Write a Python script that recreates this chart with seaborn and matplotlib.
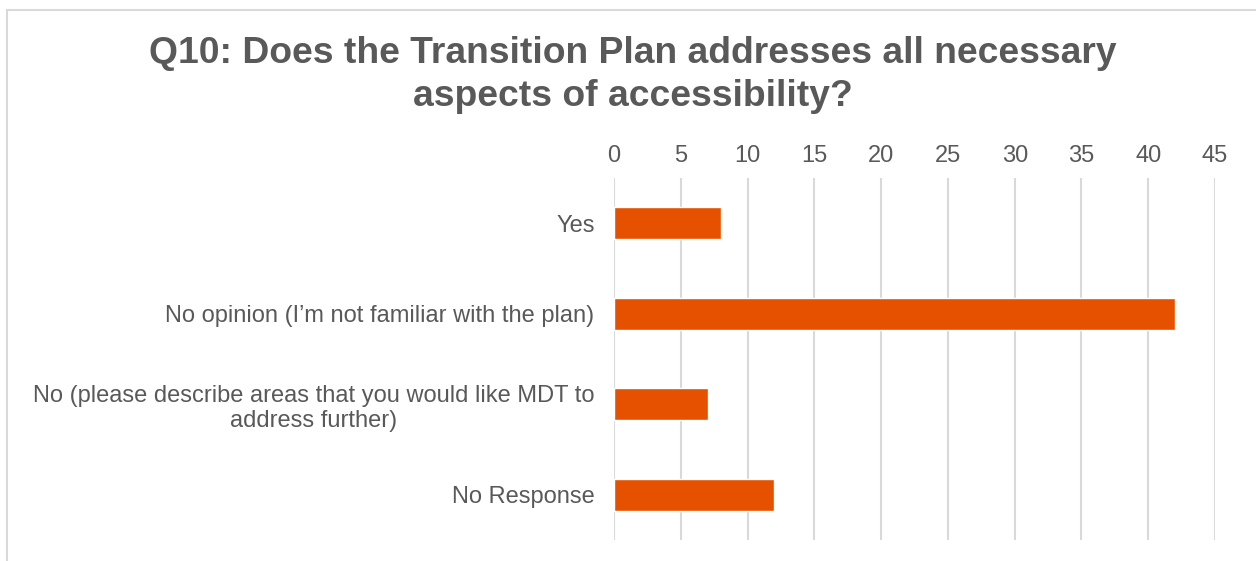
import matplotlib.pyplot as plt
import matplotlib.patches as mpatches
import pandas as pd
import seaborn as sns

categories = [
    "Yes",
    "No opinion (I\u2019m not familiar with the plan)",
    "No (please describe areas that you would like MDT to\naddress further)",
    "No Response",
]
counts = [8, 42, 7, 12]
x_ticks = list(range(0, 50, 5))

TITLE = "Q10: Does the Transition Plan addresses all necessary\naspects of accessibility?"
BAR_COLOR = "#E65100"
TEXT_COLOR = "#595959"
GRID_COLOR = "#D9D9D9"

sns.set_theme(style="white")
plt.rcParams["font.family"] = ["Liberation Sans", "DejaVu Sans"]

df = pd.DataFrame({"category": categories, "count": counts})

fig = plt.figure(figsize=(12.56, 5.61), dpi=100)
ax = fig.add_axes([0.4889, 0.0374, 0.4785, 0.6453])

sns.barplot(data=df, y="category", x="count", color=BAR_COLOR, width=0.35,
            saturation=1, ax=ax)

ax.set_xlim(0, 45)
ax.set_xticks(x_ticks)
ax.xaxis.tick_top()
ax.set_xlabel("")
ax.set_ylabel("")
ax.grid(axis="x", color=GRID_COLOR, linewidth=1.5)
ax.set_axisbelow(True)
for s in ax.spines.values():
    s.set_visible(False)
ax.tick_params(axis="x", length=0, pad=8, labelsize=17, labelcolor=TEXT_COLOR)
ax.tick_params(axis="y", length=0, pad=14, labelsize=17, labelcolor=TEXT_COLOR)
for lbl in ax.get_yticklabels():
    lbl.set_multialignment("center")

fig.text(0.504, 0.866, TITLE, ha="center", va="center", fontsize=26.8,
         fontweight="bold", color=TEXT_COLOR, linespacing=1.32)

# outer chart frame (cut off at right and bottom like the source)
frame = mpatches.Rectangle((7 / 1256, -0.1), 1.2, 1 - 10 / 561 + 0.1,
                           transform=fig.transFigure, fill=False,
                           edgecolor=GRID_COLOR, linewidth=1.5)
fig.patches.append(frame)

fig.savefig("out.png", dpi=100)
